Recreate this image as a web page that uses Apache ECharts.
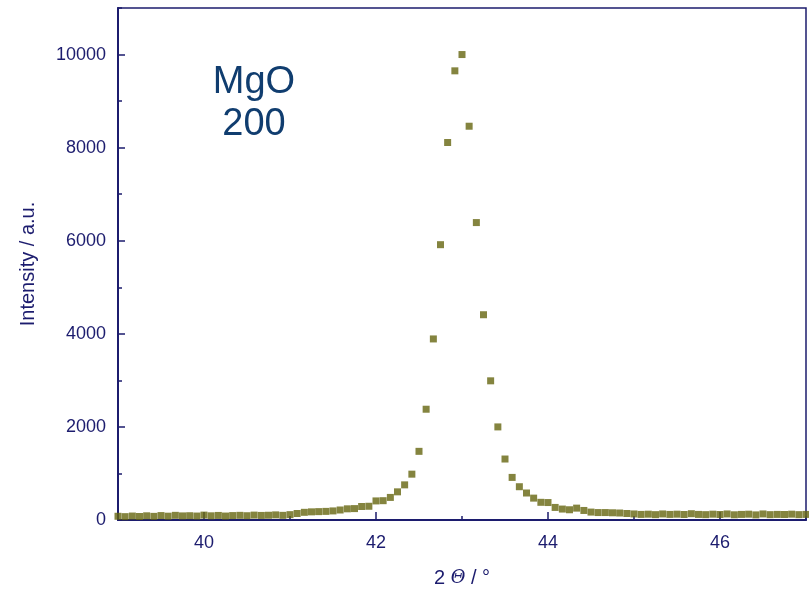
<!DOCTYPE html>
<html>
<head>
<meta charset="utf-8">
<script src="https://cdn.jsdelivr.net/npm/echarts@6/dist/echarts.min.js"></script>
<style>html,body{margin:0;padding:0;background:#fff;}#c{width:809px;height:593px;}</style>
</head>
<body>
<div id="c"></div>
<script>
// 2θ positions (degrees)
var twoTheta = [
  39.000,39.083,39.167,39.250,39.333,39.417,39.500,39.583,39.667,39.750,39.833,39.917,
  40.000,40.083,40.167,40.250,40.333,40.417,40.500,40.583,40.667,40.750,40.833,40.917,
  41.000,41.083,41.167,41.250,41.333,41.417,41.500,41.583,41.667,41.750,41.833,41.917,
  42.000,42.083,42.167,42.250,42.333,42.417,42.500,42.583,42.667,42.750,42.833,42.917,
  43.000,43.083,43.167,43.250,43.333,43.417,43.500,43.583,43.667,43.750,43.833,43.917,
  44.000,44.083,44.167,44.250,44.333,44.417,44.500,44.583,44.667,44.750,44.833,44.917,
  45.000,45.083,45.167,45.250,45.333,45.417,45.500,45.583,45.667,45.750,45.833,45.917,
  46.000,46.083,46.167,46.250,46.333,46.417,46.500,46.583,46.667,46.750,46.833,46.917,
  47.000
];
// Intensity (a.u.)
var intensity = [
  80,72,85,75,90,78,95,82,100,88,92,85,
  105,90,98,85,95,100,92,105,98,102,110,100,
  115,140,165,175,180,185,195,215,240,245,290,295,
  410,415,485,605,755,985,1475,2380,3890,5915,8110,9650,
  10000,8460,6390,4410,2990,2000,1310,915,715,580,470,380,
  375,270,235,220,255,205,170,160,160,155,150,140,
  130,120,125,115,130,120,125,118,135,120,115,125,
  118,130,112,120,125,110,130,115,120,118,125,115,
  120
];
var xLabel = '2 {t|\u0398} / \u00b0';
var yLabel = 'Intensity / a.u.';
var noteLines = ['MgO', '200'];

var navy = '#1c1c6e';
var pts = twoTheta.map(function (x, i) { return [x, intensity[i]]; });
var plain = function (v) { return String(v); };

var chart = echarts.init(document.getElementById('c'), null, {renderer: 'canvas'});
chart.setOption({
  animation: false,
  backgroundColor: '#ffffff',
  grid: {left: 118, right: 3, top: 8, bottom: 71, show: true, borderColor: navy, borderWidth: 1.5, backgroundColor: 'transparent'},
  xAxis: [{
    type: 'value', min: 39, max: 47, splitNumber: 4,
    axisLine: {show: true, lineStyle: {color: navy, width: 2}},
    axisTick: {show: true, inside: true, length: 8, lineStyle: {color: navy, width: 1.5}},
    axisLabel: {color: navy, fontSize: 18, fontFamily: 'Liberation Sans, Arial, sans-serif', margin: 14, showMinLabel: false, showMaxLabel: false, formatter: plain},
    splitLine: {show: false},
    name: xLabel, nameLocation: 'middle', nameGap: 48,
    nameTextStyle: {color: navy, fontSize: 20, fontFamily: 'Liberation Sans, Arial, sans-serif',
      rich: {t: {fontStyle: 'italic', fontSize: 18, color: navy, fontFamily: 'DejaVu Serif, serif'}}}
  }, {
    type: 'value', min: 39, max: 47, interval: 1, position: 'bottom',
    axisLine: {show: false},
    axisTick: {show: true, inside: true, length: 4, lineStyle: {color: navy, width: 1.5}},
    axisLabel: {show: false}, splitLine: {show: false}
  }],
  yAxis: [{
    type: 'value', min: 0, max: 11000, interval: 2000,
    axisLine: {show: true, lineStyle: {color: navy, width: 2}},
    axisTick: {show: true, inside: true, length: 7, lineStyle: {color: navy, width: 1.5}},
    axisLabel: {color: navy, fontSize: 18, fontFamily: 'Liberation Sans, Arial, sans-serif', margin: 12, showMaxLabel: false, formatter: plain},
    splitLine: {show: false},
    name: yLabel, nameLocation: 'middle', nameGap: 80,
    nameTextStyle: {color: navy, fontSize: 20, fontFamily: 'Liberation Sans, Arial, sans-serif'}
  }, {
    type: 'value', min: 0, max: 11000, interval: 1000, position: 'left',
    axisLine: {show: false},
    axisTick: {show: true, inside: true, length: 4, lineStyle: {color: navy, width: 1.5}},
    axisLabel: {show: false}, splitLine: {show: false}
  }],
  series: [{
    type: 'scatter', xAxisIndex: 0, yAxisIndex: 0,
    symbol: 'rect', symbolSize: 7,
    itemStyle: {color: '#65650f'},
    data: pts
  }],
  graphic: [{
    type: 'text', x: 254, y: 83,
    style: {text: noteLines[0], fill: '#103d6f', fontSize: 38, fontFamily: 'Liberation Sans, Arial, sans-serif', align: 'center', verticalAlign: 'middle'}
  }, {
    type: 'text', x: 254, y: 125,
    style: {text: noteLines[1], fill: '#103d6f', fontSize: 38, fontFamily: 'Liberation Sans, Arial, sans-serif', align: 'center', verticalAlign: 'middle'}
  }]
});
</script>
</body>
</html>
